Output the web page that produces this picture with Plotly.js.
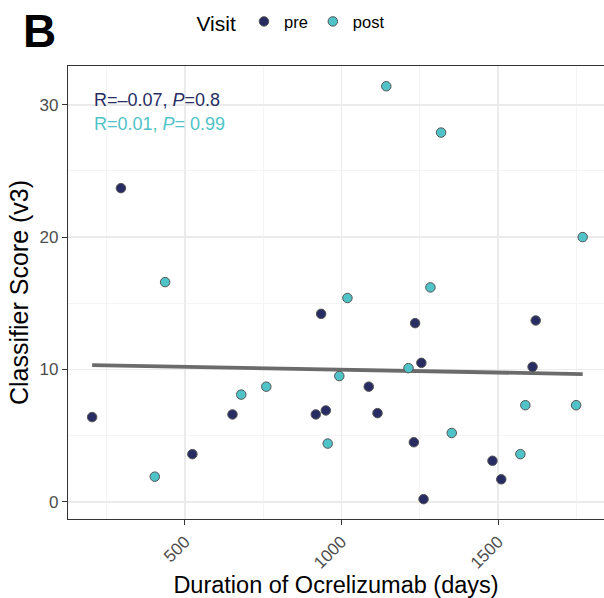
<!DOCTYPE html>
<html>
<head>
<meta charset="utf-8">
<script src="https://cdn.plot.ly/plotly-3.0.1.min.js"></script>
<style>html,body{margin:0;padding:0;background:#fff;}#chart{width:604px;height:598px;}</style>
</head>
<body>
<div id="chart"></div>
<script>
// Data
const preDays  = [204, 296, 524, 652, 918, 935, 950, 1087, 1115, 1231, 1235, 1255, 1262, 1482, 1510, 1610, 1620];
const preScore = [6.4, 23.7, 3.6, 6.6, 6.6, 14.2, 6.9, 8.7, 6.7, 4.5, 13.5, 10.5, 0.2, 3.1, 1.7, 10.2, 13.7];
const postDays  = [404, 437, 680, 760, 956, 993, 1019, 1143, 1214, 1284, 1318, 1352, 1571, 1587, 1749, 1770];
const postScore = [1.9, 16.6, 8.1, 8.7, 4.4, 9.5, 15.4, 31.4, 10.1, 16.2, 27.9, 5.2, 3.6, 7.3, 7.3, 20.0];
// Fitted trend line (as drawn in the reference)
const trendDays  = [204, 1770];
const trendScore = [10.33, 9.65];
const statLabels = ["R=\u20130.07, <i>P</i>=0.8", "R=0.01, <i>P</i>= 0.99"];
const xTicks = [500, 1000, 1500];
const yTicks = [0, 10, 20, 30];

const preColor = '#272d62';
const postColor = '#4fc3c8';
const font = 'Liberation Sans, Arial, sans-serif';

const markerLine = {color:'#555555', width:1};
const traces = [
  {x: trendDays, y: trendScore, type:'scatter', mode:'lines', line:{color:'#6b6b6b', width:3.8}, showlegend:false, hoverinfo:'skip'},
  {x: preDays, y: preScore, type:'scatter', mode:'markers', name:'pre',
   marker:{color:preColor, size:9.5, line:markerLine}},
  {x: postDays, y: postScore, type:'scatter', mode:'markers', name:'post',
   marker:{color:postColor, size:9.5, line:markerLine}}
];

const axisCommon = {
  showline:true, mirror:true, linecolor:'#333333', linewidth:1.2,
  ticks:'outside', ticklen:5, tickcolor:'#333333', tickwidth:1.2,
  showgrid:true, gridcolor:'#ebebeb', gridwidth:1.8,
  zeroline:false, tickfont:{family:font, size:17, color:'#4d4d4d'}
};

const layout = {
  width:604, height:598,
  margin:{l:68, r:0, t:66, b:79},
  paper_bgcolor:'#ffffff', plot_bgcolor:'#ffffff',
  font:{family:font},
  xaxis: Object.assign({}, axisCommon, {
    range:[127, 1838], tickvals:xTicks, ticktext:xTicks.map(String), tickangle:-45,
    minor:{dtick:250, tick0:0, showgrid:true, gridcolor:'#f4f4f4', gridwidth:1, ticks:''},
    title:{text:'Duration of Ocrelizumab (days)', font:{family:font, size:23.5, color:'#000'}, standoff:3}
  }),
  yaxis: Object.assign({}, axisCommon, {
    range:[-1.3, 32.93], tickvals:yTicks, ticktext:yTicks.map(String),
    minor:{dtick:5, tick0:0, showgrid:true, gridcolor:'#f4f4f4', gridwidth:1, ticks:''},
    title:{text:'Classifier Score (v3)', font:{family:font, size:25, color:'#000'}, standoff:3}
  }),
  showlegend:true,
  legend:{orientation:'h', x:0.236, xanchor:'left', xref:'paper', y:0.993, yref:'container', yanchor:'top',
          title:{text:'Visit', font:{family:font, size:21, color:'#000'}},
          font:{family:font, size:16.5, color:'#000'}, itemwidth:30},
  annotations:[
    {text:'<b>B</b>', xref:'paper', yref:'paper', x:-0.088, y:1.077, xanchor:'left', yanchor:'middle',
     showarrow:false, font:{family:font, size:46, color:'#000'}},
    {text:statLabels[0], xref:'paper', yref:'paper', x:0.045, y:0.925, xanchor:'left', yanchor:'middle',
     showarrow:false, font:{family:font, size:18, color:preColor}},
    {text:statLabels[1], xref:'paper', yref:'paper', x:0.045, y:0.872, xanchor:'left', yanchor:'middle',
     showarrow:false, font:{family:font, size:18, color:postColor}}
  ]
};

Plotly.newPlot('chart', traces, layout, {displayModeBar:false, staticPlot:true});
</script>
</body>
</html>
